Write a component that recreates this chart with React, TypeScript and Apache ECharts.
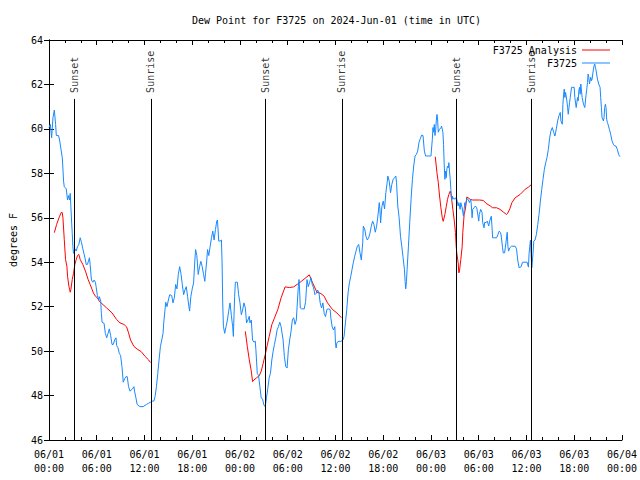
import React, { useEffect, useRef } from "react";
import * as echarts from "echarts";

// ---- Data (hours since 2024-06-01 00:00 UTC, degrees F) ----
const TITLE = "Dew Point for F3725 on 2024-Jun-01 (time in UTC)";
const Y_NAME = "degrees F";
const SERIES_OBS = "F3725";
const SERIES_ANA = "F3725 Analysis";
const MONTH = "06";
const START_DAY = 1;

const OBS_DAY1: [number, number][] = [
  [0, 60.06], [0.17, 60.2], [0.33, 59.6], [0.5, 60.5], [0.67, 60.85], [0.83, 60.2], [0.92, 59.7], [1.2, 59.7], [1.33, 59.5], [1.5, 59.1], [1.67, 58.7], [1.75, 58.2], [1.83, 57.65], [1.92, 57.4], [2.17, 57.3], [2.33, 56.8], [2.46, 57.0], [2.58, 56.8], [2.67, 57.1], [2.75, 56.5], [2.83, 55.9], [2.92, 55.3], [3.0, 54.7], [3.08, 54.4], [3.25, 54.6], [3.42, 54.5], [3.58, 54.7], [3.75, 54.8], [3.92, 55.1], [4.08, 54.9], [4.25, 54.6], [4.42, 54.35], [4.58, 54.1], [4.67, 53.9], [4.83, 53.9], [5.0, 54.1], [5.08, 54.2], [5.17, 53.9], [5.33, 53.2], [5.5, 53.1], [5.67, 53.2], [5.83, 53.1], [5.92, 52.9], [6.08, 52.5], [6.25, 52.3], [6.33, 52.45], [6.5, 52.25], [6.58, 51.7], [6.67, 51.3], [6.92, 51.25], [7.08, 50.8], [7.25, 50.6], [7.42, 50.8], [7.58, 51.0], [7.75, 50.7], [7.92, 50.3], [8.08, 50.3], [8.25, 50.5], [8.42, 50.6], [8.5, 50.25], [8.67, 50.15], [8.83, 49.9], [9.0, 49.8], [9.17, 49.3], [9.33, 48.6], [9.5, 48.75], [9.67, 48.85], [9.83, 48.85], [10.0, 48.4], [10.17, 48.2], [10.33, 48.25], [10.5, 48.3], [10.67, 48.4], [10.75, 48.2], [10.92, 47.9], [11.08, 47.6], [11.42, 47.5], [11.83, 47.5], [12.25, 47.6], [12.5, 47.65], [12.75, 47.7], [13.0, 47.75], [13.17, 47.75], [13.33, 47.95], [13.5, 48.4], [13.67, 49.0], [13.83, 49.6], [14.0, 50.2], [14.17, 50.5], [14.33, 50.8], [14.42, 51.27], [14.58, 51.87], [14.67, 52.2], [14.83, 52.0], [15.0, 52.3], [15.17, 52.54], [15.42, 52.5], [15.58, 52.17], [15.75, 52.4], [15.92, 53.0], [16.08, 52.8], [16.25, 53.45], [16.42, 53.8], [16.58, 53.5], [16.75, 53.0], [16.92, 52.54], [17.08, 52.75], [17.25, 52.9], [17.42, 52.45], [17.58, 52.0], [17.67, 51.8], [17.83, 52.47], [18.0, 52.8], [18.17, 53.07], [18.33, 54.1], [18.42, 54.57], [18.58, 54.3], [18.75, 53.45], [18.92, 53.8], [19.08, 54.04], [19.25, 53.8], [19.42, 53.45], [19.58, 53.14], [19.67, 53.5], [19.83, 54.1], [19.92, 54.57], [20.08, 54.3], [20.25, 54.72], [20.42, 55.1], [20.58, 55.4], [20.75, 55.0], [20.92, 55.47], [21.08, 55.85], [21.17, 55.9], [21.33, 54.95], [21.5, 54.95], [21.67, 55.0], [21.75, 53.97], [21.83, 52.17], [21.92, 51.1], [22.08, 50.8], [22.25, 51.1], [22.42, 51.4], [22.58, 51.8], [22.75, 52.17], [22.92, 51.6], [23.08, 51.1], [23.17, 50.66], [23.25, 51.6], [23.33, 52.47], [23.42, 53.1], [23.67, 53.1], [23.83, 52.54],
];

const OBS_DAY2: [number, number][] = [
  [24.0, 52.17], [24.17, 51.64], [24.33, 51.85], [24.5, 52.17], [24.67, 51.95], [24.83, 51.27], [25.0, 51.4], [25.17, 51.57], [25.25, 51.27], [25.42, 51.4], [25.58, 50.5], [25.75, 50.4], [25.92, 50.45], [26.0, 50.06], [26.17, 49.0], [26.33, 48.9], [26.5, 48.4], [26.67, 47.88], [26.83, 47.85], [27.0, 47.58], [27.17, 47.5], [27.33, 47.9], [27.5, 48.33], [27.67, 48.8], [27.83, 49.0], [28.0, 49.6], [28.17, 50.0], [28.33, 50.3], [28.5, 50.6], [28.67, 50.96], [28.83, 51.1], [29.0, 51.3], [29.17, 51.1], [29.25, 50.9], [29.42, 50.5], [29.58, 49.76], [29.75, 49.3], [29.92, 49.24], [30.08, 50.06], [30.25, 50.5], [30.42, 50.9], [30.58, 51.4], [30.75, 51.5], [30.92, 51.2], [31.08, 51.4], [31.17, 51.94], [31.33, 52.9], [31.42, 53.22], [31.5, 52.7], [31.58, 51.94], [31.75, 51.9], [32.08, 51.9], [32.25, 52.24], [32.33, 52.7], [32.42, 53.22], [32.58, 52.9], [32.75, 53.1], [32.92, 53.3], [33.08, 53.0], [33.25, 52.85], [33.42, 52.54], [33.58, 52.6], [33.75, 52.75], [33.92, 52.63], [34.08, 52.17], [34.25, 51.94], [34.42, 52.17], [34.58, 51.7], [34.75, 51.55], [34.92, 51.87], [35.08, 51.9], [35.33, 51.87], [35.42, 51.49], [35.58, 51.1], [35.75, 50.95], [35.92, 51.1], [36.0, 50.36], [36.08, 50.14], [36.17, 50.36], [36.33, 50.44], [36.67, 50.44], [36.92, 50.48], [37.08, 50.66], [37.25, 51.27], [37.42, 51.87], [37.58, 52.62], [37.75, 53.07], [37.92, 53.37], [38.08, 53.67], [38.25, 54.0], [38.42, 54.27], [38.58, 54.5], [38.75, 54.72], [38.92, 54.8], [39.08, 54.42], [39.25, 54.1], [39.42, 54.87], [39.5, 55.62], [39.67, 55.5], [39.83, 55.17], [40.0, 55.0], [40.17, 55.1], [40.33, 55.3], [40.5, 55.62], [40.67, 55.85], [40.83, 55.7], [41.0, 55.35], [41.17, 55.62], [41.33, 56.07], [41.5, 56.68], [41.58, 56.4], [41.67, 55.77], [41.83, 56.5], [42.0, 56.75], [42.17, 56.4], [42.33, 57.13], [42.5, 57.6], [42.58, 57.88], [42.75, 57.65], [42.92, 57.13], [43.08, 57.5], [43.25, 57.73], [43.42, 57.8], [43.58, 57.88], [43.67, 57.6], [43.83, 56.53], [44.0, 56.0], [44.17, 55.17], [44.33, 54.72], [44.5, 54.2], [44.67, 53.67], [44.75, 53.14], [44.83, 52.8], [44.92, 53.14], [45.0, 53.67], [45.17, 54.72], [45.33, 55.78], [45.5, 56.83], [45.67, 57.73], [45.83, 58.33], [46.0, 58.78], [46.17, 58.85], [46.33, 59.0], [46.5, 59.4], [46.67, 59.57], [46.83, 59.72], [47.0, 59.7], [47.17, 59.0], [47.33, 58.78], [47.67, 58.78],
];

const OBS_DAY3: [number, number][] = [
  [48.0, 58.78], [48.17, 59.53], [48.25, 60.06], [48.33, 59.85], [48.42, 60.2], [48.5, 59.7], [48.58, 59.9], [48.67, 60.36], [48.75, 60.65], [48.83, 60.45], [48.92, 59.85], [49.08, 59.98], [49.25, 60.05], [49.33, 60.13], [49.5, 59.85], [49.58, 59.3], [49.67, 58.33], [49.75, 57.73], [49.83, 58.1], [49.92, 57.8], [50.0, 58.2], [50.08, 58.33], [50.17, 58.25], [50.25, 58.48], [50.33, 58.1], [50.42, 57.73], [50.5, 57.28], [50.58, 56.83], [50.67, 56.98], [50.75, 56.83], [50.83, 56.9], [51.0, 56.83], [51.08, 56.9], [51.25, 56.83], [51.42, 56.53], [51.5, 56.68], [51.67, 56.38], [51.75, 56.68], [51.92, 56.45], [52.08, 56.07], [52.17, 56.38], [52.25, 56.68], [52.33, 56.53], [52.5, 56.86], [52.67, 56.83], [52.83, 56.68], [53.0, 56.83], [53.08, 56.53], [53.17, 56.0], [53.25, 56.38], [53.42, 56.45], [53.58, 56.53], [53.75, 56.45], [53.92, 56.07], [54.0, 55.85], [54.08, 56.15], [54.25, 56.38], [54.42, 56.23], [54.5, 55.78], [54.67, 55.55], [54.75, 55.8], [54.92, 55.78], [55.08, 55.85], [55.25, 55.63], [55.42, 55.9], [55.58, 56.07], [55.67, 55.6], [55.75, 55.1], [56.0, 55.1], [56.25, 55.1], [56.42, 55.25], [56.58, 55.4], [56.75, 55.33], [56.83, 55.18], [57.0, 54.65], [57.08, 54.42], [57.25, 54.42], [57.42, 54.87], [57.58, 55.35], [57.67, 54.72], [57.75, 54.5], [57.92, 54.65], [58.12, 54.72], [58.58, 54.72], [58.75, 54.6], [58.92, 54.05], [59.08, 53.75], [59.33, 53.8], [59.5, 54.0], [60.08, 54.0], [60.25, 53.78], [60.33, 54.4], [60.42, 54.72], [60.5, 55.0], [60.58, 54.4], [60.67, 53.75], [60.75, 53.75], [60.83, 54.4], [60.92, 54.95], [61.08, 55.0], [61.25, 55.25], [61.42, 55.7], [61.58, 56.15], [61.75, 56.75], [61.92, 57.28], [62.08, 57.73], [62.25, 58.18], [62.42, 58.48], [62.58, 58.71], [62.75, 59.08], [62.92, 59.61], [63.08, 59.91], [63.25, 60.06], [63.42, 59.84], [63.58, 59.68], [63.75, 60.0], [63.92, 60.36], [64.08, 60.59], [64.25, 60.74], [64.33, 60.36], [64.5, 60.21], [64.58, 61.11], [64.67, 61.56], [64.75, 61.79], [64.83, 61.41], [64.92, 61.64], [65.08, 61.26], [65.17, 60.96], [65.25, 60.66], [65.42, 61.19], [65.5, 61.41], [65.67, 61.87], [66.0, 61.87], [66.08, 61.41], [66.25, 60.96], [66.33, 61.19], [66.42, 61.41], [66.5, 61.26], [66.58, 61.71], [66.67, 61.87], [66.75, 61.56], [66.83, 62.02], [67.0, 61.41], [67.17, 61.11], [67.33, 60.96], [67.5, 61.56], [67.58, 61.79], [67.67, 62.09], [67.75, 62.47], [67.83, 62.32], [67.92, 62.02], [68.08, 62.32], [68.17, 62.17], [68.25, 62.24], [68.33, 62.47], [68.42, 62.69], [68.5, 62.84], [68.58, 62.92], [68.67, 62.77], [68.75, 62.62], [68.92, 62.24], [69.08, 62.02], [69.25, 61.87], [69.33, 61.41], [69.42, 60.96], [69.5, 60.51], [69.58, 60.44], [69.67, 60.36], [69.75, 60.51], [69.83, 60.96], [69.92, 61.11], [70.0, 60.96], [70.08, 60.44], [70.17, 60.29], [70.25, 60.21], [70.42, 59.98], [70.58, 59.76], [70.75, 59.46], [70.92, 59.31], [71.08, 59.23], [71.25, 59.23], [71.42, 59.08], [71.58, 58.86], [71.67, 58.78], [71.75, 58.75],
];

const ANALYSIS_NIGHT1: [number, number][] = [
  [0.67, 55.33], [0.96, 55.7], [1.33, 56.07], [1.58, 56.26], [1.67, 56.22], [1.75, 56.0], [1.92, 55.02], [2.08, 54.12], [2.25, 53.82], [2.33, 53.37], [2.5, 52.92], [2.67, 52.65], [2.75, 52.77], [2.92, 53.22], [3.08, 53.5], [3.25, 53.9], [3.42, 54.12], [3.58, 54.3], [3.75, 54.35], [3.92, 54.12], [4.25, 53.9], [4.58, 53.6], [4.92, 53.22], [5.17, 53.0], [5.42, 52.77], [5.58, 52.62], [5.83, 52.47], [6.08, 52.4], [6.33, 52.24], [6.67, 52.13], [7.25, 51.94], [7.92, 51.72], [8.5, 51.42], [8.92, 51.27], [9.42, 51.2], [9.75, 51.09], [10.0, 50.82], [10.25, 50.5], [10.67, 50.21], [11.08, 50.09], [11.58, 49.98], [12.08, 49.76], [12.5, 49.61], [12.75, 49.49],
];

const ANALYSIS_NIGHT2: [number, number][] = [
  [24.67, 50.89], [24.92, 50.21], [25.17, 49.61], [25.42, 49.1], [25.58, 48.63], [25.75, 48.7], [26.08, 48.8], [26.42, 48.89], [26.67, 49.1], [26.92, 49.46], [27.17, 49.84], [27.42, 50.25], [27.67, 50.66], [28.0, 51.19], [28.29, 51.45], [28.75, 51.87], [29.17, 52.4], [29.67, 52.89], [30.21, 52.86], [30.75, 52.89], [31.25, 53.02], [31.75, 53.15], [32.71, 53.43], [33.13, 53.07], [33.67, 52.65], [34.17, 52.59], [34.58, 52.47], [35.0, 52.17], [35.63, 51.87], [36.17, 51.72], [36.75, 51.5],
];

const ANALYSIS_NIGHT3: [number, number][] = [
  [48.54, 58.75], [48.75, 58.03], [48.92, 57.58], [49.08, 56.98], [49.25, 56.45], [49.42, 56.0], [49.54, 55.84], [49.75, 56.15], [49.92, 56.5], [50.08, 56.83], [50.25, 57.05], [50.42, 57.2], [50.5, 57.1], [50.58, 56.9], [50.75, 56.38], [50.92, 55.9], [51.08, 55.33], [51.17, 54.72], [51.25, 54.4], [51.42, 53.97], [51.5, 53.52], [51.58, 53.6], [51.75, 54.12], [51.92, 54.7], [52.0, 55.33], [52.17, 56.15], [52.33, 56.4], [52.5, 56.93], [52.67, 56.9], [52.92, 56.83], [53.25, 56.8], [54.08, 56.8], [54.58, 56.78], [54.92, 56.65], [55.46, 56.53], [55.75, 56.45], [56.25, 56.45], [56.67, 56.38], [57.08, 56.26], [57.5, 56.15], [57.63, 56.2], [57.92, 56.41], [58.17, 56.68], [58.58, 56.9], [59.21, 57.05], [59.83, 57.28], [60.25, 57.38], [60.63, 57.5],
];

const SUNSET_HOURS = [3.16, 27.16, 51.16];
const SUNRISE_HOURS = [12.79, 36.79, 60.66];
const SUN_LINE_TOP = 61.35;

const X_MIN = 0;
const X_MAX = 72;
const X_STEP = 6;
const Y_MIN = 46;
const Y_MAX = 64;
const Y_STEP = 2;

const FONT = "DejaVu Sans Mono";
const BLUE = "#1888ff";
const RED = "#ff0000";
const LEGEND_LINE_ICON = "path://M0,0H28V1H0Z";

const pad = (n: number) => (n < 10 ? "0" + n : String(n));

export default function App() {
  const ref = useRef<HTMLDivElement>(null);

  useEffect(() => {
    document.body.style.margin = "0";
    if (!ref.current) return;
    const chart = echarts.init(ref.current, null, { renderer: "svg" });

    const sunEvents = [
      ...SUNSET_HOURS.map((h) => ({ name: "Sunset", h })),
      ...SUNRISE_HOURS.map((h) => ({ name: "Sunrise", h })),
    ];

    const axisText = { fontFamily: FONT, fontSize: 10, color: "#000" };
    const axisLine = { show: true, lineStyle: { color: "#000", width: 1 } };

    const xBase = {
      type: "value" as const,
      min: X_MIN,
      max: X_MAX,
      interval: X_STEP,
      axisLine,
      axisTick: { show: true, inside: true, length: 5, lineStyle: { color: "#000" } },
      minorTick: { show: true, splitNumber: 3, length: 3, lineStyle: { color: "#000" } },
      splitLine: { show: false },
      minorSplitLine: { show: false },
    };
    const yBase = {
      type: "value" as const,
      min: Y_MIN,
      max: Y_MAX,
      interval: Y_STEP,
      axisLine,
      axisTick: { show: true, inside: true, length: 5, lineStyle: { color: "#000" } },
      splitLine: { show: false },
    };

    const lineSeries = (name: string, data: [number, number][], color: string) => ({
      type: "line" as const,
      name,
      data,
      symbol: "none",
      showSymbol: false,
      lineStyle: { color, width: 1 },
      itemStyle: { color },
      z: 3,
    });

    chart.setOption({
      animation: false,
      backgroundColor: "#fff",
      title: {
        text: TITLE,
        left: 187,
        top: 10,
        textStyle: { fontFamily: FONT, fontSize: 10, fontWeight: "normal", color: "#000" },
      },
      legend: {
        data: [
          { name: SERIES_ANA, icon: LEGEND_LINE_ICON },
          { name: SERIES_OBS, icon: LEGEND_LINE_ICON },
        ],
        orient: "vertical",
        align: "right",
        padding: 0,
        right: 30,
        top: 45,
        itemWidth: 28,
        itemHeight: 10,
        itemGap: 3,
        textStyle: { fontFamily: FONT, fontSize: 10, color: "#000" },
      },
      grid: { left: 47, right: 18, top: 40, bottom: 40, containLabel: false },
      xAxis: [
        {
          ...xBase,
          position: "bottom",
          axisLabel: {
            ...axisText,
            margin: 7,
            lineHeight: 14,
            formatter: (v: number) => {
              const day = START_DAY + Math.floor(v / 24);
              const hh = v % 24;
              return `${MONTH}/${pad(day)}\n${pad(hh)}:00`;
            },
          },
        },
        {
          ...xBase,
          position: "top",
          axisLabel: { show: false },
        },
      ],
      yAxis: [
        {
          ...yBase,
          position: "left",
          name: Y_NAME,
          nameLocation: "middle",
          nameGap: 31,
          nameTextStyle: { fontFamily: FONT, fontSize: 10, color: "#000" },
          axisLabel: { ...axisText, margin: 6 },
        },
        {
          ...yBase,
          position: "right",
          axisLabel: { show: false },
        },
      ],
      series: [
        lineSeries(SERIES_ANA, ANALYSIS_NIGHT1, RED),
        lineSeries(SERIES_ANA, ANALYSIS_NIGHT2, RED),
        lineSeries(SERIES_ANA, ANALYSIS_NIGHT3, RED),
        lineSeries(SERIES_OBS, [...OBS_DAY1, ...OBS_DAY2, ...OBS_DAY3], BLUE),
        {
          type: "scatter",
          name: "sun",
          symbolSize: 0,
          silent: true,
          z: 4,
          data: sunEvents.map((e) => ({ name: e.name, value: [e.h, SUN_LINE_TOP] })),
          label: {
            show: true,
            formatter: "{b}",
            position: "top",
            distance: 6,
            rotate: 90,
            align: "left",
            verticalAlign: "middle",
            fontFamily: FONT,
            fontSize: 10,
            color: "#000",
          },
          markLine: {
            silent: true,
            symbol: ["none", "none"],
            label: { show: false },
            lineStyle: { color: "#000", width: 1, type: "solid" },
            data: sunEvents.map((e) => [
              { coord: [e.h, Y_MIN] },
              { coord: [e.h, SUN_LINE_TOP] },
            ]),
          },
        },
      ],
    });

    return () => chart.dispose();
  }, []);

  return (
    <div
      ref={ref}
      style={{ position: "absolute", left: 0, top: 0, width: 640, height: 480 }}
    />
  );
}
